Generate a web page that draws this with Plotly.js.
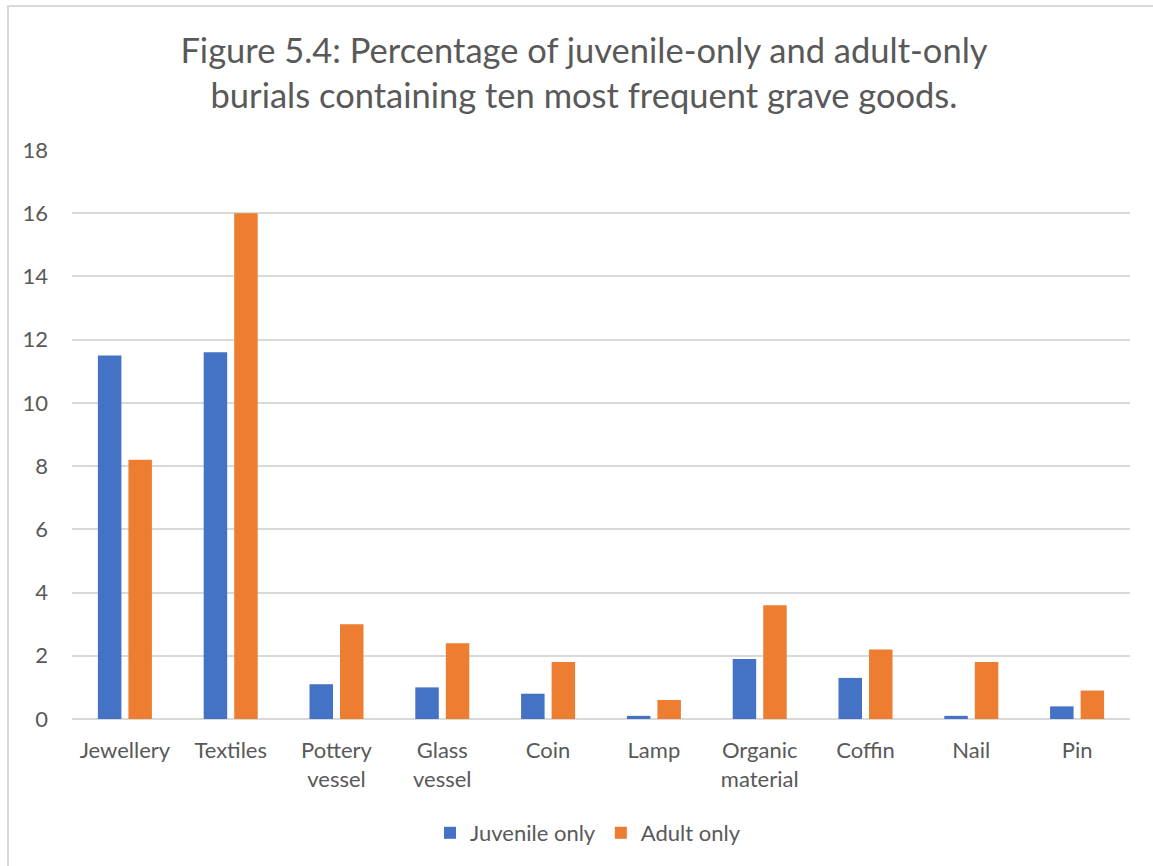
<!DOCTYPE html>
<html>
<head>
<meta charset="utf-8">
<script src="https://cdn.plot.ly/plotly-3.0.1.min.js"></script>
<style>
  html, body { margin: 0; padding: 0; background: #ffffff; overflow: hidden; }
  #chart { position: absolute; left: 0; top: 0; width: 1153px; height: 866px; }
  #frame { position: absolute; left: 7px; top: 5px; width: 1200px; height: 900px;
           border: 2px solid #d9d9d9; pointer-events: none; box-sizing: border-box; }
</style>
</head>
<body>
<div id="chart"></div>
<div id="frame"></div>
<script>
// Grave-good categories (multi-line labels)
const categories = ["Jewellery", "Textiles", "Pottery<br>vessel", "Glass<br>vessel", "Coin",
                    "Lamp", "Organic<br>material", "Coffin", "Nail", "Pin"];
// Percentage of burials containing each item
const juvenileOnly = [11.5, 11.6, 1.1, 1.0, 0.8, 0.1, 1.9, 1.3, 0.1, 0.4];
const adultOnly    = [8.2, 16.0, 3.0, 2.4, 1.8, 0.6, 3.6, 2.2, 1.8, 0.9];
const yTicks = [0, 2, 4, 6, 8, 10, 12, 14, 16, 18];

const textColor = "#595959";
const fontFamily = "Lato, 'Open Sans', sans-serif";

const traces = [
  { type: "bar", name: "Juvenile only", x: categories, y: juvenileOnly,
    marker: { color: "#4472c4" }, hoverinfo: "y" },
  { type: "bar", name: "Adult only", x: categories, y: adultOnly,
    marker: { color: "#ed7d31" }, hoverinfo: "y" }
];

const plotLeft = 72, plotRight = 1130, plotTop = 150, plotBottom = 719;

const layout = {
  width: 1153, height: 866,
  margin: { l: plotLeft, r: 1153 - plotRight, t: plotTop, b: 866 - plotBottom },
  paper_bgcolor: "rgba(0,0,0,0)",
  plot_bgcolor: "#ffffff",
  font: { family: fontFamily, color: textColor, size: 22 },
  title: {
    text: "Figure 5.4: Percentage of juvenile-only and adult-only<br>burials containing ten most frequent grave goods.",
    font: { family: fontFamily, size: 34.5, color: textColor },
    x: 584 / 1153, xanchor: "center", xref: "container",
    y: 1 - 63 / 866, yanchor: "middle"
  },
  barmode: "group",
  bargap: 0.423,
  bargroupgap: 0.23,
  xaxis: {
    type: "category",
    showgrid: false, showline: false, ticks: "",
    tickfont: { size: 22, color: textColor },
    ticklabelstandoff: 16
  },
  yaxis: {
    range: [0, 18], tickvals: yTicks, ticks: "",
    showline: false,
    gridcolor: "#d9d9d9", gridwidth: 1.5,
    zeroline: true, zerolinecolor: "#d9d9d9", zerolinewidth: 2,
    tickfont: { size: 22, color: textColor },
    ticklabelstandoff: 23
  },
  showlegend: true,
  legend: {
    orientation: "h",
    x: (588 - plotLeft) / (plotRight - plotLeft), xanchor: "center",
    y: (plotBottom - 833) / (plotBottom - plotTop), yanchor: "middle",
    font: { size: 22, color: textColor },
    itemwidth: 30, traceorder: "normal"
  }
};

Plotly.newPlot("chart", traces, layout, { displayModeBar: false });
</script>
</body>
</html>
